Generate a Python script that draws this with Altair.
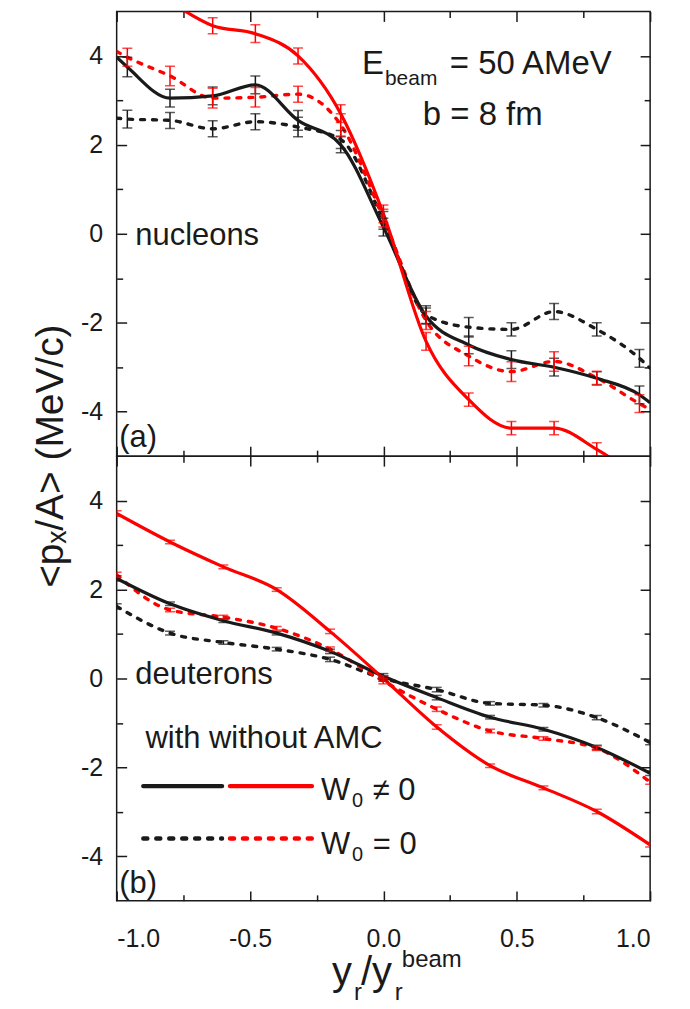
import altair as alt
import pandas as pd

FONT = "Liberation Sans"
INK = "#1a1a1a"
RED = "#ff0000"

# ---------------- panel (a): nucleons ----------------
xa = [-0.96, -0.8, -0.64, -0.48, -0.32, -0.16, 0.0, 0.16, 0.32, 0.48, 0.64, 0.8, 0.96]
xa_ends = [-1.0, 1.0]
a_with_w = [3.75, 3.05, 3.1, 3.35, 2.55, 2.0, 0.15, -1.85, -2.5, -2.83, -3.0, -3.25, -3.62]
a_with_w_err = [0.22, 0.2, 0.2, 0.2, 0.22, 0.18, 0.2, 0.18, 0.2, 0.2, 0.2, 0.15, 0.2]
a_with_w_ends = [3.97, -3.8]
a_with_0 = [2.58, 2.55, 2.36, 2.52, 2.4, 2.12, 0.3, -1.82, -2.1, -2.15, -1.75, -2.15, -2.8]
a_with_0_err = [0.2, 0.18, 0.18, 0.18, 0.22, 0.2, 0.2, 0.2, 0.22, 0.15, 0.18, 0.15, 0.2]
a_with_0_ends = [2.6, -3.02]
a_wo_w = [5.9, 5.22, 4.68, 4.5, 4.0, 2.7, 0.45, -2.42, -3.73, -4.37, -4.37, -4.85, -5.5]
a_wo_w_err = [0.2, 0.2, 0.18, 0.2, 0.18, 0.2, 0.2, 0.2, 0.15, 0.15, 0.15, 0.15, 0.2]
a_wo_w_ends = [6.2, -5.7]
a_wo_0 = [3.97, 3.55, 3.05, 3.07, 3.14, 2.45, 0.35, -1.95, -2.75, -3.1, -2.87, -3.24, -3.82]
a_wo_0_err = [0.2, 0.22, 0.22, 0.22, 0.18, 0.25, 0.2, 0.2, 0.22, 0.22, 0.22, 0.15, 0.2]
a_wo_0_ends = [4.1, -3.95]

# ---------------- panel (b): deuterons ----------------
xb = [-1.0, -0.8, -0.6, -0.4, -0.2, 0.0, 0.2, 0.4, 0.6, 0.8, 1.0]
b_with_w = [2.25, 1.68, 1.30, 1.02, 0.61, 0.05, -0.43, -0.87, -1.14, -1.55, -2.13]
b_with_0 = [1.62, 1.02, 0.81, 0.66, 0.43, 0.0, -0.25, -0.56, -0.60, -0.88, -1.44]
b_wo_w = [3.71, 3.07, 2.51, 2.0, 1.06, 0.0, -1.09, -1.96, -2.46, -2.99, -3.74]
b_wo_0 = [2.33, 1.54, 1.38, 1.13, 0.66, -0.06, -0.69, -1.18, -1.35, -1.57, -2.33]
b_err = [0.06, 0.04, 0.04, 0.04, 0.05, 0.06, 0.05, 0.04, 0.04, 0.05, 0.05]

SERIES = ["with_w", "with_0", "wo_w", "wo_0"]
STYLE = {
    "with_w": dict(color=INK, strokeWidth=3.2),
    "wo_w": dict(color=RED, strokeWidth=3.2),
    "with_0": dict(color=INK, strokeWidth=3.4, strokeDash=[4, 8], strokeCap="round"),
    "wo_0": dict(color=RED, strokeWidth=3.4, strokeDash=[4, 8], strokeCap="round"),
}
LEG_STYLE = {
    "with_w": dict(color=INK, strokeWidth=4.5, strokeCap="round"),
    "wo_w": dict(color=RED, strokeWidth=4.5, strokeCap="round"),
    "with_0": dict(color=INK, strokeWidth=4.5, strokeDash=[4, 9], strokeCap="round"),
    "wo_0": dict(color=RED, strokeWidth=4.5, strokeDash=[4, 9], strokeCap="round"),
}

XS = alt.Scale(domain=[-1, 1], nice=False, zero=False)
YS = alt.Scale(domain=[-5, 5], nice=False, zero=False)

XEXPR = "datum.value < 0 ? '-' + format(-datum.value, '.1f') : format(datum.value, '.1f')"
YEXPR = "datum.value < 0 ? '-' + format(-datum.value, 'd') : format(datum.value, 'd')"


def axis(orient, values, tick, labels=False, expr=None, pad=0):
    kw = dict(orient=orient, values=values, tickSize={"expr": str(-tick)},
              tickWidth=1.5, tickColor=INK, domain=False, grid=False,
              labels=labels, title="", ticks=True)
    if labels:
        kw.update(labelFont=FONT, labelFontSize=25, labelColor=INK,
                  labelPadding=pad, labelExpr=expr)
    return alt.Axis(**kw)


def txt(text, x, y, size, dx=0, dy=0, align="left", color=INK):
    return alt.Chart(alt.Data(values=[{}])).mark_text(
        text=text, font=FONT, fontSize=size, align=align, baseline="middle",
        dx=dx, dy=dy, color=color
    ).encode(x=alt.XDatum(x, axis=None), y=alt.YDatum(y, axis=None))


def pix_txt(text, x, y, size, angle=0, align="left", baseline="alphabetic"):
    kw = dict(text=text, font=FONT, fontSize=size, align=align,
              baseline=baseline, color=INK)
    if angle:
        kw["angle"] = angle
    return alt.Chart(alt.Data(values=[{}])).mark_text(**kw).encode(
        x=alt.value(x), y=alt.value(y))


def panel(xs, ends, series, errs, show_x_labels, extra):
    pts_rows, line_rows = [], []
    for key in SERIES:
        vals = series[key]
        for i, (xv, yv) in enumerate(zip(xs, vals)):
            e = errs[key][i]
            pts_rows.append(dict(s=key, x=xv, y=yv, lo=yv - e, hi=yv + e))
            line_rows.append(dict(s=key, x=xv, y=yv))
        if ends is not None:
            for xv, yv in zip(ends, series[key + "_ends"]):
                line_rows.append(dict(s=key, x=xv, y=yv))
    pts = pd.DataFrame(pts_rows)
    lines = pd.DataFrame(line_rows).sort_values(["s", "x"])

    axes = {
        "with_w": (axis("bottom", [-1, -0.5, 0, 0.5, 1], 10, show_x_labels, XEXPR, 36),
                   axis("left", [-4, -2, 0, 2, 4], 10, True, YEXPR, 24)),
        "wo_w": (axis("bottom", [-0.75, -0.25, 0.25, 0.75], 6),
                 axis("left", [-3, -1, 1, 3], 6)),
        "with_0": (axis("top", [-1, -0.5, 0, 0.5, 1], 10),
                   axis("right", [-4, -2, 0, 2, 4], 10)),
        "wo_0": (axis("top", [-0.75, -0.25, 0.25, 0.75], 6),
                 axis("right", [-3, -1, 1, 3], 6)),
    }
    layers = []
    for key in ["with_0", "wo_0", "with_w", "wo_w"]:
        ax_x, ax_y = axes[key]
        layers.append(
            alt.Chart(lines).transform_filter(alt.datum.s == key).mark_line(
                interpolate="monotone", clip=True, **STYLE[key]
            ).encode(x=alt.X("x:Q", scale=XS, axis=ax_x),
                     y=alt.Y("y:Q", scale=YS, axis=ax_y))
        )
    for key in SERIES:
        layers.append(
            alt.Chart(pts).transform_filter(alt.datum.s == key).mark_errorbar(
                ticks=True, size=10, thickness=1.5, color=STYLE[key]["color"], clip=True
            ).encode(x=alt.X("x:Q", scale=XS, axis=None),
                     y=alt.Y("lo:Q", scale=YS, axis=None), y2="hi:Q")
        )
    layers += extra
    return alt.layer(*layers).resolve_axis(x="independent", y="independent").properties(
        width=535, height=446)


ser_a = {"with_w": a_with_w, "with_0": a_with_0, "wo_w": a_wo_w, "wo_0": a_wo_0,
         "with_w_ends": a_with_w_ends, "with_0_ends": a_with_0_ends,
         "wo_w_ends": a_wo_w_ends, "wo_0_ends": a_wo_0_ends}
err_a = {"with_w": a_with_w_err, "with_0": a_with_0_err, "wo_w": a_wo_w_err, "wo_0": a_wo_0_err}
ser_b = {"with_w": b_with_w, "with_0": b_with_0, "wo_w": b_wo_w, "wo_0": b_wo_0}
err_b = {k: b_err for k in SERIES}

extra_a = [
    txt("nucleons", -0.93, -0.05, 31),
    txt("(a)", -0.99, -4.6, 31),
    txt("E", -0.08, 3.81, 33),
    txt("beam", -0.08, 3.48, 21, dx=23),
    txt("= 50 AMeV", 0.249, 3.81, 33),
    txt("b = 8 fm", 0.148, 2.67, 33),
    pix_txt("<pₓ/A> (MeV/c)", -66, 446, 39, angle=270, align="center", baseline="middle"),
]

legend_rows = pd.DataFrame({
    "x1": [-0.90, -0.575, -0.90, -0.575],
    "x2": [-0.605, -0.268, -0.605, -0.268],
    "y": [-2.42, -2.42, -3.60, -3.60],
})

leg_layers = []
for i, key in enumerate(["with_w", "wo_w", "with_0", "wo_0"]):
    leg_layers.append(
        alt.Chart(legend_rows.iloc[[i]]).mark_rule(**LEG_STYLE[key]).encode(
            x=alt.X("x1:Q", scale=XS, axis=None), x2="x2:Q",
            y=alt.Y("y:Q", scale=YS, axis=None))
    )

extra_b = [
    txt("deuterons", -0.93, 0.07, 31),
    txt("(b)", -0.99, -4.63, 31),
    txt("with without AMC", -0.892, -1.36, 31),
] + leg_layers + [
    txt("W", -0.234, -2.53, 31),
    txt("0", -0.234, -2.53, 20, dx=31, dy=10),
    txt("≠ 0", -0.234, -2.53, 31, dx=52),
    txt("W", -0.234, -3.74, 31),
    txt("0", -0.234, -3.74, 20, dx=31, dy=10),
    txt("= 0", -0.234, -3.74, 31, dx=52),
    pix_txt("y", 216, 530, 40),
    pix_txt("r", 238, 545, 24),
    pix_txt("/y", 245, 530, 40),
    pix_txt("r", 279, 545, 24),
    pix_txt("beam", 286, 512, 24),
]

top = panel(xa, xa_ends, ser_a, err_a, False, extra_a)
bottom = panel(xb, None, ser_b, err_b, True, extra_b)

chart = alt.vconcat(top, bottom, spacing=0, bounds="flush").properties(
    padding={"left": 31, "top": 8, "right": 38, "bottom": 5}
).configure_view(stroke=INK, strokeWidth=1.5)

chart.save("out.html", embed_options={"renderer": "svg", "actions": False})
